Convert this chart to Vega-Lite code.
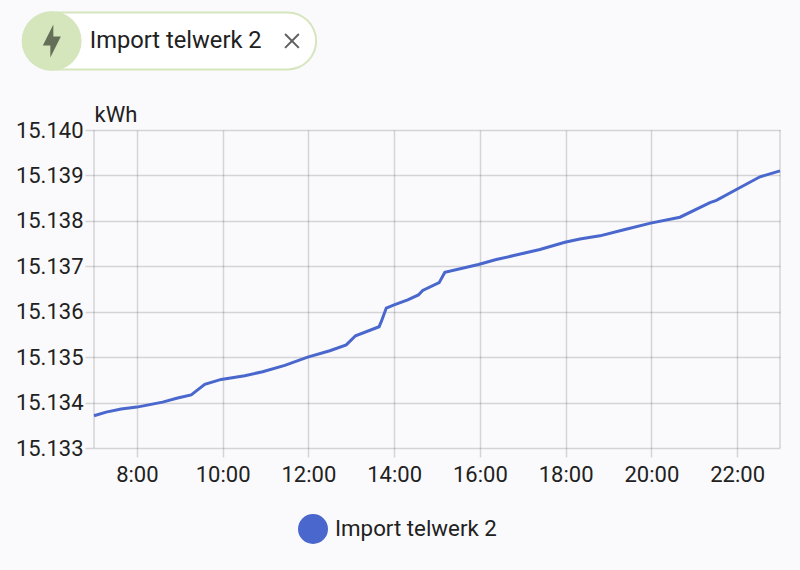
{
"$schema":"https://vega.github.io/schema/vega-lite/v6.json",
"width":686,"height":318,
"autosize":{"type":"none"},
"padding":{"left":94,"top":130,"right":20,"bottom":122},
"background":"#fafafc",
"config":{"view":{"stroke":null},"font":"Roboto"},
"encoding":{
 "x":{"field":"t","type":"temporal","title":null,"scale":{"domain":[{"year":2024,"month":1,"date":1,"hours":7},{"year":2024,"month":1,"date":1,"hours":23}],"nice":false},
  "axis":{"values":[{"year":2024,"month":1,"date":1,"hours":8},{"year":2024,"month":1,"date":1,"hours":10},{"year":2024,"month":1,"date":1,"hours":12},{"year":2024,"month":1,"date":1,"hours":14},{"year":2024,"month":1,"date":1,"hours":16},{"year":2024,"month":1,"date":1,"hours":18},{"year":2024,"month":1,"date":1,"hours":20},{"year":2024,"month":1,"date":1,"hours":22}],"format":"%-H:%M","labelFont":"Roboto","labelFontSize":22,"labelColor":"#212121","labelPadding":7,"labelOverlap":false,"tickColor":"#00000026","tickSize":9,"tickWidth":1.5,"gridColor":"#00000026","gridWidth":1.5,"gridOpacity":1,"grid":true,"domain":false}},
 "y":{"field":"v","type":"quantitative","scale":{"domain":[15.133,15.14],"nice":false,"zero":false},
  "axis":{"values":[15.133,15.134,15.135,15.136,15.137,15.138,15.139,15.14],"format":".3f","labelFont":"Roboto","labelFontSize":22,"labelColor":"#212121","labelPadding":2,"tickColor":"#00000026","tickSize":9,"tickWidth":1.5,"gridColor":"#00000026","gridWidth":1.5,"gridOpacity":1,"grid":true,"domain":false,
  "title":"kWh","titleAngle":0,"titleFont":"Roboto","titleFontSize":22,"titleFontWeight":"normal","titleColor":"#212121","titleAlign":"left","titleBaseline":"alphabetic","titleX":0,"titleY":-9}}
},
"layer":[
 {"data":{"values":[{"t":"2024-01-01T07:00:00"},{"t":"2024-01-01T23:00:00"}]},
  "mark":{"type":"rule","color":"#00000026","strokeWidth":1.5},
  "encoding":{"y":{"value":0},"y2":{"value":318}}},
 {"data":{"values":[
{"t":"2024-01-01T07:00:00","v":15.13371,"series":"Import telwerk 2"},
{"t":"2024-01-01T07:17:00","v":15.13379,"series":"Import telwerk 2"},
{"t":"2024-01-01T07:38:00","v":15.13386,"series":"Import telwerk 2"},
{"t":"2024-01-01T08:00:00","v":15.1339,"series":"Import telwerk 2"},
{"t":"2024-01-01T08:36:00","v":15.13401,"series":"Import telwerk 2"},
{"t":"2024-01-01T08:57:00","v":15.1341,"series":"Import telwerk 2"},
{"t":"2024-01-01T09:16:00","v":15.13417,"series":"Import telwerk 2"},
{"t":"2024-01-01T09:35:00","v":15.1344,"series":"Import telwerk 2"},
{"t":"2024-01-01T09:58:00","v":15.13451,"series":"Import telwerk 2"},
{"t":"2024-01-01T10:31:00","v":15.13459,"series":"Import telwerk 2"},
{"t":"2024-01-01T10:56:00","v":15.13468,"series":"Import telwerk 2"},
{"t":"2024-01-01T11:27:00","v":15.13482,"series":"Import telwerk 2"},
{"t":"2024-01-01T11:59:00","v":15.135,"series":"Import telwerk 2"},
{"t":"2024-01-01T12:30:00","v":15.13514,"series":"Import telwerk 2"},
{"t":"2024-01-01T12:53:00","v":15.13527,"series":"Import telwerk 2"},
{"t":"2024-01-01T13:06:00","v":15.13547,"series":"Import telwerk 2"},
{"t":"2024-01-01T13:39:00","v":15.13567,"series":"Import telwerk 2"},
{"t":"2024-01-01T13:42:00","v":15.13578,"series":"Import telwerk 2"},
{"t":"2024-01-01T13:49:00","v":15.13608,"series":"Import telwerk 2"},
{"t":"2024-01-01T14:00:00","v":15.13615,"series":"Import telwerk 2"},
{"t":"2024-01-01T14:19:00","v":15.13626,"series":"Import telwerk 2"},
{"t":"2024-01-01T14:34:00","v":15.13637,"series":"Import telwerk 2"},
{"t":"2024-01-01T14:40:00","v":15.13647,"series":"Import telwerk 2"},
{"t":"2024-01-01T15:03:00","v":15.13664,"series":"Import telwerk 2"},
{"t":"2024-01-01T15:11:00","v":15.13687,"series":"Import telwerk 2"},
{"t":"2024-01-01T15:58:00","v":15.13704,"series":"Import telwerk 2"},
{"t":"2024-01-01T16:23:00","v":15.13715,"series":"Import telwerk 2"},
{"t":"2024-01-01T16:46:00","v":15.13723,"series":"Import telwerk 2"},
{"t":"2024-01-01T17:24:00","v":15.13737,"series":"Import telwerk 2"},
{"t":"2024-01-01T17:59:00","v":15.13753,"series":"Import telwerk 2"},
{"t":"2024-01-01T18:20:00","v":15.1376,"series":"Import telwerk 2"},
{"t":"2024-01-01T18:48:00","v":15.13767,"series":"Import telwerk 2"},
{"t":"2024-01-01T19:23:00","v":15.13781,"series":"Import telwerk 2"},
{"t":"2024-01-01T19:59:00","v":15.13795,"series":"Import telwerk 2"},
{"t":"2024-01-01T20:40:00","v":15.13808,"series":"Import telwerk 2"},
{"t":"2024-01-01T21:22:00","v":15.1384,"series":"Import telwerk 2"},
{"t":"2024-01-01T21:31:00","v":15.13845,"series":"Import telwerk 2"},
{"t":"2024-01-01T21:59:00","v":15.13869,"series":"Import telwerk 2"},
{"t":"2024-01-01T22:32:00","v":15.13897,"series":"Import telwerk 2"},
{"t":"2024-01-01T23:00:00","v":15.1391,"series":"Import telwerk 2"}
 ]},
  "mark":{"type":"line","strokeWidth":3,"interpolate":"linear","clip":false},
  "encoding":{"color":{"field":"series","type":"nominal","scale":{"range":["#4a67cd"]},
   "legend":{"orient":"none","legendX":204,"legendY":384,"title":null,"symbolType":"circle","symbolSize":900,"symbolFillColor":"#4a67cd","symbolStrokeWidth":0,"labelFont":"Roboto","labelFontSize":22.3,"labelColor":"#212121","labelOffset":7,"labelLimit":300,"padding":0}}}},
 {"data":{"values":[{"t":"2024-01-01T06:00:00","t2":"2024-01-01T11:31:00","v":15.14196}]},
  "mark":{"type":"rule","color":"#d5e6bd","strokeWidth":59,"strokeCap":"round"},
  "encoding":{"x2":{"field":"t2"}}},
 {"data":{"values":[{"t":"2024-01-01T06:00:00","t2":"2024-01-01T11:31:00","v":15.14196}]},
  "mark":{"type":"rule","color":"#ffffff","strokeWidth":55,"strokeCap":"round"},
  "encoding":{"x2":{"field":"t2"}}},
 {"data":{"values":[{"t":"2024-01-01T06:01:00","v":15.14196}]},
  "mark":{"type":"point","filled":true,"shape":"circle","size":3540,"color":"#d5e6bd","opacity":1}},
 {"data":{"values":[{"t":"2024-01-01T06:01:00","v":15.14196}]},
  "mark":{"type":"point","filled":true,"shape":"M-0.083,0.25H-0.5L0.083,-0.917V-0.25H0.5L-0.083,0.917V0.25Z","size":1296,"color":"#656e57","opacity":1}},
 {"data":{"values":[{"t":"2024-01-01T11:37:00","v":15.14196}]},
  "mark":{"type":"point","filled":false,"shape":"M-1,-1L1,1M-1,1L1,-1","size":190,"color":"#616161","strokeWidth":2,"opacity":1}},
 {"data":{"values":[{"t":"2024-01-01T06:54:00","v":15.14196,"label":"Import telwerk 2"}]},
  "mark":{"type":"text","font":"Roboto","fontSize":23.7,"color":"#212121","align":"left","baseline":"middle"},
  "encoding":{"text":{"field":"label"}}}
]
}
